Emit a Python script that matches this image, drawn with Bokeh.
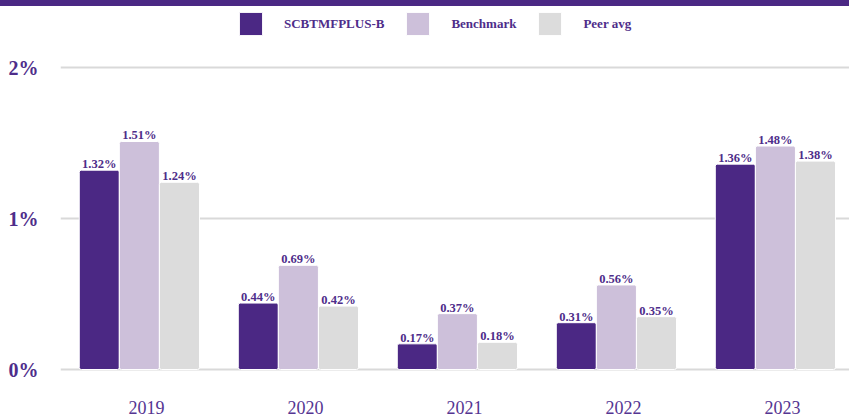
from bokeh.plotting import figure
from bokeh.models import Range1d, FixedTicker, ColumnDataSource, Div
from bokeh.layouts import column
from bokeh.embed import file_html
from bokeh.resources import INLINE
from bokeh.core.properties import value

years = ["2019", "2020", "2021", "2022", "2023"]
fund = [1.32, 0.44, 0.17, 0.31, 1.36]
bench = [1.51, 0.69, 0.37, 0.56, 1.48]
peer = [1.24, 0.42, 0.18, 0.35, 1.38]
series_names = ["SCBTMFPLUS-B", "Benchmark", "Peer avg"]
y_ticks = [0, 1, 2]

colors = ["#4b2884", "#cdc0da", "#dcdcdc"]
label_color = "#4e2d8a"
font = "Liberation Serif"

bw = 0.252
shift = -0.045
xs = list(range(len(years)))

p = figure(width=849, height=413,
           x_range=Range1d(-0.541, 4.421),
           y_range=Range1d(-7 / 151, 363 / 151),
           output_backend="svg", toolbar_location=None,
           min_border_left=60, min_border_right=0, min_border_top=0,
           min_border_bottom=43)
p.outline_line_color = None
p.background_fill_color = "white"
p.border_fill_color = "white"

for k, (vals, name) in enumerate(zip([fund, bench, peer], series_names)):
    off = (k - 1) * bw + shift
    src = ColumnDataSource(dict(x=[i + off for i in xs], top=vals,
                                label=[f"{v:.2f}%" for v in vals]))
    p.vbar(x="x", top="top", bottom=0, width=bw, source=src,
           fill_color=colors[k], line_color="white", line_width=1,
           border_radius=2, legend_label=name)
    p.text(x="x", y="top", text="label", source=src, text_align="center",
           text_baseline="alphabetic", y_offset=-6,
           text_font=value(font), text_font_style="bold",
           text_font_size="12.5px", text_color=label_color)

# axes
p.yaxis.ticker = FixedTicker(ticks=y_ticks)
p.yaxis.major_label_overrides = {t: f"{t}%" for t in y_ticks}
p.yaxis.axis_line_color = None
p.yaxis.major_tick_line_color = None
p.yaxis.minor_tick_line_color = None
p.yaxis.major_tick_out = 0
p.yaxis.major_label_standoff = 22
p.yaxis.major_label_text_font = font
p.yaxis.major_label_text_font_style = "bold"
p.yaxis.major_label_text_font_size = "20px"
p.yaxis.major_label_text_color = label_color

p.xaxis.ticker = FixedTicker(ticks=xs)
p.xaxis.major_label_overrides = {i: y for i, y in zip(xs, years)}
p.xaxis.axis_line_color = None
p.xaxis.major_tick_line_color = None
p.xaxis.minor_tick_line_color = None
p.xaxis.major_tick_out = 0
p.xaxis.major_label_standoff = 24
p.xaxis.major_label_text_font = font
p.xaxis.major_label_text_font_style = "normal"
p.xaxis.major_label_text_font_size = "18px"
p.xaxis.major_label_text_color = "#553592"

p.xgrid.grid_line_color = None
p.ygrid.ticker = FixedTicker(ticks=y_ticks)
p.ygrid.grid_line_color = "#d9d9d9"
p.ygrid.grid_line_width = 2

# legend
lg = p.legend[0]
lg.location = (176, 338)
lg.orientation = "horizontal"
lg.glyph_width = 29
lg.glyph_height = 29
lg.label_height = 29
lg.label_standoff = 19
lg.spacing = 19
lg.padding = 0
lg.margin = 0
lg.border_line_color = None
lg.background_fill_alpha = 0
lg.label_text_font = font
lg.label_text_font_style = "bold"
lg.label_text_font_size = "13px"
lg.label_text_baseline = "hanging"
lg.label_text_color = label_color

strip = Div(text="", width=849, height=6, margin=0,
            styles={"background-color": "#4b2884"})
layout = column(strip, p, spacing=0, margin=0)

open("out.html", "w").write(file_html(layout, INLINE))
